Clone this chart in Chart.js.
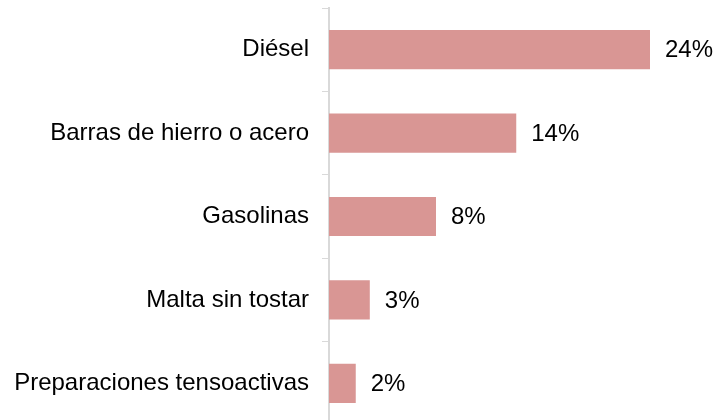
<!DOCTYPE html>
<html>
<head>
<meta charset="utf-8">
<script src="https://cdn.jsdelivr.net/npm/chart.js@4/dist/chart.umd.min.js"></script>
<style>
html,body{margin:0;padding:0;background:#fff;overflow:hidden;width:728px;height:420px;}
#wrap{position:absolute;left:0;top:0;width:728px;height:426px;}
</style>
</head>
<body>
<div id="wrap"><canvas id="c"></canvas></div>
<script>
const categories = ["Diésel", "Barras de hierro o acero", "Gasolinas", "Malta sin tostar", "Preparaciones tensoactivas"];
const values = [24, 14, 8, 3.05, 2];
const valueLabels = ["24%", "14%", "8%", "3%", "2%"];

const FONT = "'Liberation Sans', Arial, sans-serif";

const valueLabelPlugin = {
  id: 'valueLabels',
  afterDatasetsDraw(chart) {
    const ctx = chart.ctx;
    const meta = chart.getDatasetMeta(0);
    ctx.save();
    ctx.font = "24px " + FONT;
    ctx.fillStyle = "#000";
    ctx.textAlign = "left";
    ctx.textBaseline = "middle";
    meta.data.forEach((bar, i) => {
      ctx.fillText(valueLabels[i], bar.x + 15, bar.y + 1);
    });
    ctx.restore();
  }
};

new Chart(document.getElementById('c'), {
  type: 'bar',
  data: {
    labels: categories,
    datasets: [{
      data: values,
      backgroundColor: '#D99694',
      borderWidth: 0,
      barPercentage: 0.47,
      categoryPercentage: 1.0
    }]
  },
  options: {
    indexAxis: 'y',
    responsive: true,
    maintainAspectRatio: false,
    animation: false,
    layout: { padding: { top: 8, bottom: 1, left: 0, right: 24.5 } },
    plugins: { legend: { display: false }, tooltip: { enabled: false } },
    scales: {
      x: { display: false, min: 0, max: 28 },
      y: {
        afterFit(scale) { scale.width = 329; scale.paddingTop = 0; scale.paddingBottom = 0; },
        border: { display: true, color: '#d9d9d9', width: 2 },
        grid: { display: true, drawOnChartArea: false, drawTicks: true, tickLength: 7, color: '#d9d9d9', lineWidth: 1, offset: true },
        ticks: { color: '#000', font: { family: FONT, size: 24 }, padding: 13 }
      }
    }
  },
  plugins: [valueLabelPlugin]
});
</script>
</body>
</html>
